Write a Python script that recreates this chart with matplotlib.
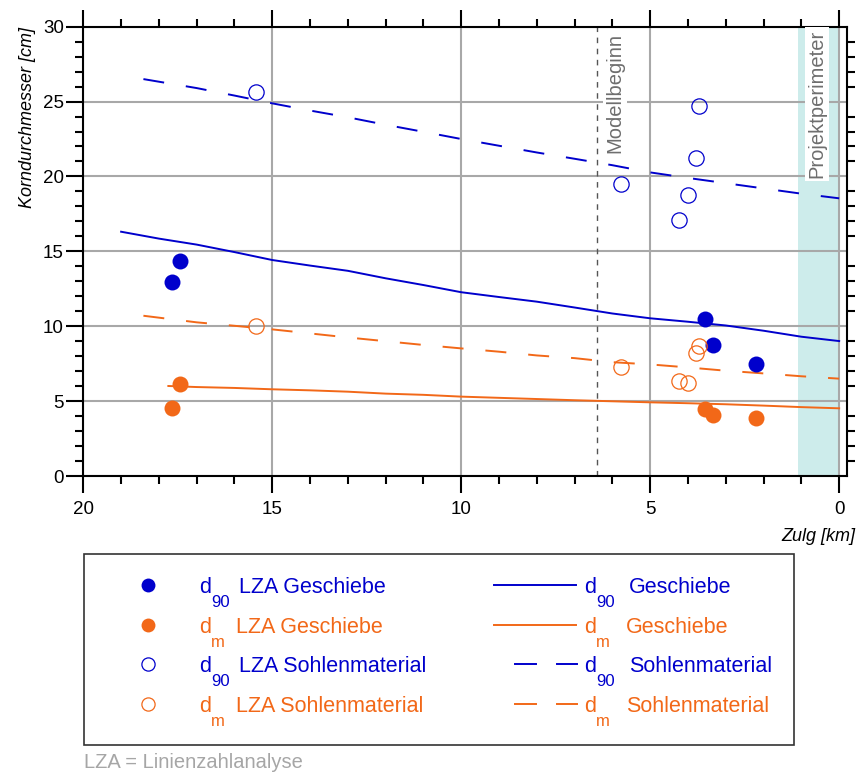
import matplotlib
matplotlib.use('Agg')
import matplotlib.pyplot as plt
from matplotlib.patches import Rectangle

plt.rcParams['font.family'] = ['Liberation Sans', 'DejaVu Sans']

# Linienzahlanalysen (LZA), Zulg-km
lza_geschiebe_km = [17.66, 17.44, 3.55, 3.35, 2.20]
d90_lza_geschiebe = [12.93, 14.35, 10.46, 8.72, 7.45]
dm_lza_geschiebe = [4.56, 6.12, 4.45, 4.07, 3.85]

lza_sohle_km = [15.43, 5.76, 4.24, 4.00, 3.79, 3.70]
d90_lza_sohle = [25.63, 19.51, 17.09, 18.78, 21.23, 24.70]
dm_lza_sohle = [10.01, 7.30, 6.36, 6.19, 8.19, 8.68]

# Kornverteilung entlang der Zulg
d90_geschiebe_km = [19, 18, 17, 16, 15, 14, 13, 12, 11, 10, 9, 8, 7, 6, 5, 4, 3, 2, 1, 0]
d90_geschiebe = [16.31, 15.85, 15.45, 14.95, 14.42, 14.05, 13.7, 13.2, 12.75, 12.27,
                 11.95, 11.64, 11.25, 10.85, 10.53, 10.3, 10.05, 9.7, 9.3, 9.01]
dm_geschiebe_km = [17.75, 17, 16, 15, 14, 13, 12, 11, 10, 9, 8, 7, 6, 5, 4, 3, 2, 1, 0]
dm_geschiebe = [6.01, 5.94, 5.88, 5.79, 5.72, 5.63, 5.5, 5.42, 5.3, 5.22, 5.14, 5.06,
                4.99, 4.92, 4.86, 4.79, 4.7, 4.6, 4.52]
sohle_km = [18.41, 17, 16, 15, 14, 13, 12, 11, 10, 9, 8, 7, 6, 5, 4, 3, 2, 1, 0]
d90_sohle = [26.5, 25.9, 25.4, 24.88, 24.4, 23.95, 23.45, 22.98, 22.5, 22.05, 21.6,
             21.18, 20.75, 20.27, 19.9, 19.55, 19.2, 18.85, 18.54]
dm_sohle = [10.70, 10.26, 10.03, 9.79, 9.52, 9.25, 9.0, 8.75, 8.52, 8.3, 8.05, 7.87,
            7.6, 7.45, 7.25, 7.03, 6.85, 6.66, 6.50]

modellbeginn_km = 6.4
perimeter_km = (0, 1.1)

blue = '#0000cc'
orange = '#f26818'
dash = (0, (10.8, 11.3))

fig = plt.figure(figsize=(8.59, 7.73), dpi=100)
ax = fig.add_axes([0.097, 0.3842, 0.8887, 0.5813])

ax.axvspan(*perimeter_km, color='#cdeceb', zorder=0, lw=0)
ax.axvline(modellbeginn_km, color='#555555', lw=1, ls=(0, (4, 4)), zorder=1)

ax.plot(d90_geschiebe_km, d90_geschiebe, color=blue, lw=1.4, zorder=3)
ax.plot(dm_geschiebe_km, dm_geschiebe, color=orange, lw=1.4, zorder=3)
ax.plot(sohle_km, d90_sohle, color=blue, lw=1.4, ls=dash, zorder=3)
ax.plot(sohle_km, dm_sohle, color=orange, lw=1.4, ls=dash, zorder=3)

ax.plot(lza_geschiebe_km, d90_lza_geschiebe, 'o', color=blue, ms=11.5, mew=0, zorder=5)
ax.plot(lza_geschiebe_km, dm_lza_geschiebe, 'o', color=orange, ms=11.5, mew=0, zorder=5)
ax.plot(lza_sohle_km, d90_lza_sohle, 'o', mfc='none', mec=blue, ms=11, mew=0.9, zorder=5)
ax.plot(lza_sohle_km, dm_lza_sohle, 'o', mfc='none', mec=orange, ms=11, mew=0.9, zorder=5)

ax.text(5.93, 29.6, 'Modellbeginn', rotation=90, ha='center', va='top', fontsize=14.5,
        color='#6e6e6e', zorder=4,
        bbox=dict(facecolor='white', edgecolor='none', pad=2))
ax.text(0.59, 29.8, 'Projektperimeter', rotation=90, ha='center', va='top', fontsize=14.5,
        color='#6e6e6e', zorder=4,
        bbox=dict(facecolor='white', edgecolor='none', pad=2))

ax.set_xlim(20, -0.2)
ax.set_ylim(0, 30)
ax.set_xticks([20, 15, 10, 5, 0])
ax.set_xticks(range(0, 21), minor=True)
ax.set_yticks([0, 5, 10, 15, 20, 25, 30])
ax.set_yticks(range(0, 31), minor=True)
ax.grid(True, which='major', color='#a8a8a8', lw=1.5, zorder=0.5)
ax.set_axisbelow(True)
for s in ax.spines.values():
    s.set_linewidth(1.5)
ax.tick_params(which='both', direction='out', width=1.5, labelsize=13.5,
               top=True, right=True, labelright=False, labeltop=False)
ax.tick_params(which='major', length=12)
ax.tick_params(which='minor', length=6)
ax.tick_params(axis='y', which='major', right=False, pad=2)
ax.tick_params(axis='x', pad=6)
ax.set_ylabel('Korndurchmesser [cm]', loc='top', fontsize=13, style='italic', labelpad=5)
ax.set_xlabel('Zulg [km]', fontsize=13, style='italic', ha='right')
ax.xaxis.set_label_coords(1.0115, -0.115)

# Legende als eigenes Feld unter dem Diagramm
lax = fig.add_axes([0, 0, 1, 1])
lax.set_xlim(0, 859)
lax.set_ylim(773, 0)
lax.axis('off')
lax.add_patch(Rectangle((84, 554), 710, 191, fill=False, ec='#333333', lw=1.2))

rows = [
    (blue, True, '90', 'LZA Geschiebe', '-', 'Geschiebe'),
    (orange, True, 'm', 'LZA Geschiebe', '-', 'Geschiebe'),
    (blue, False, '90', 'LZA Sohlenmaterial', '--', 'Sohlenmaterial'),
    (orange, False, 'm', 'LZA Sohlenmaterial', '--', 'Sohlenmaterial'),
]
for i, (c, filled, sub, left_txt, ls, right_txt) in enumerate(rows):
    yb = 593 + 39.7 * i
    ym = yb - 8
    if filled:
        lax.plot([148], [ym], 'o', color=c, ms=10, mew=0)
    else:
        lax.plot([148], [ym], 'o', mfc='none', mec=c, ms=9.5, mew=0.9)
    if ls == '-':
        lax.plot([494, 576], [ym, ym], color=c, lw=1.4)
    else:
        lax.plot([515, 536], [ym, ym], color=c, lw=1.4)
        lax.plot([557, 577], [ym, ym], color=c, lw=1.4)
    off = 40 if sub == '90' else 37
    lax.text(199, yb, 'd', color=c, fontsize=15.5, va='baseline')
    lax.text(211, yb + 14, sub, color=c, fontsize=12, va='baseline')
    lax.text(199 + off, yb, left_txt, color=c, fontsize=15.5, va='baseline')
    lax.text(584, yb, 'd', color=c, fontsize=15.5, va='baseline')
    lax.text(596, yb + 14, sub, color=c, fontsize=12, va='baseline')
    lax.text(584 + off + 5, yb, right_txt, color=c, fontsize=15.5, va='baseline')

lax.text(84, 768, 'LZA = Linienzahlanalyse', color='#a6a6a6', fontsize=14.5, va='baseline')

fig.savefig('out.png', dpi=100)
